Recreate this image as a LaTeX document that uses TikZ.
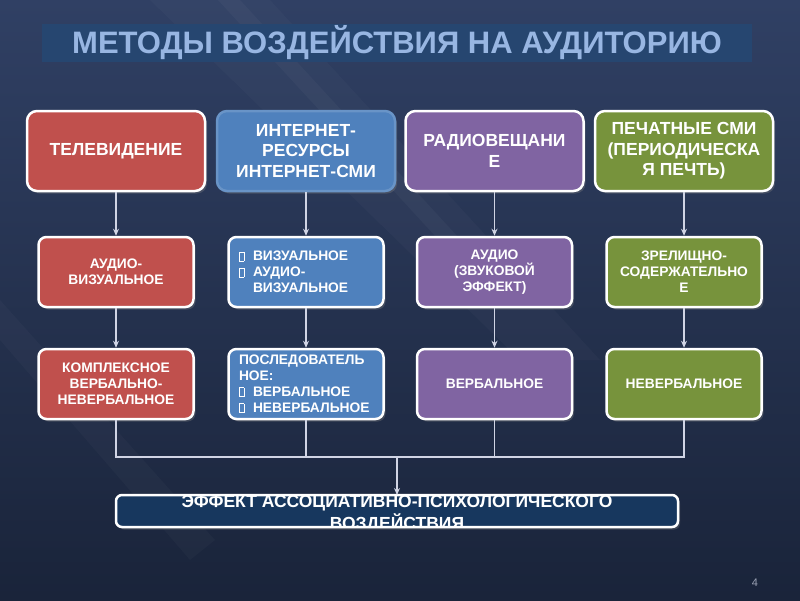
\documentclass[tikz,border=0pt]{standalone}
\usepackage{fontspec}
\setmainfont{Liberation Sans}
\usetikzlibrary{arrows.meta, shadows}
\definecolor{bgnavy}{RGB}{30,42,68}
\definecolor{bgnavylight}{RGB}{48,64,100}
\definecolor{titlefill}{RGB}{38,70,112}
\definecolor{titletext}{RGB}{152,182,226}
\definecolor{tvred}{RGB}{192,80,77}
\definecolor{netblue}{RGB}{79,129,189}
\definecolor{radiopurple}{RGB}{128,100,162}
\definecolor{printgreen}{RGB}{119,147,60}
\definecolor{effectnavy}{RGB}{23,55,94}
\definecolor{linkgray}{RGB}{208,212,228}
\newcommand{\boxbullet}{{\setlength{\fboxsep}{0pt}\setlength{\fboxrule}{0.7pt}\fbox{\rule{0pt}{8.5pt}\hspace{4pt}}}}
\newcommand{\bitem}{\makebox[14pt][l]{\boxbullet}}
\newcommand{\bindent}{\hspace*{14pt}}

\begin{document}
\begin{tikzpicture}[
  x=1pt, y=-1pt,
  titleband/.style={rectangle, fill=titlefill, minimum width=710pt, minimum height=38pt, inner sep=0pt, text=titletext, font=\fontsize{31}{32}\selectfont\bfseries},
  topbox/.style={rectangle, rounded corners=10pt, draw=white, line width=2.5pt, minimum width=178pt, minimum height=80pt, inner sep=0pt, align=center, text=white, font=\fontsize{17.5}{20.5}\selectfont\bfseries, drop shadow={opacity=0.35, shadow xshift=2pt, shadow yshift=-2.5pt}},
  subbox/.style={rectangle, rounded corners=8pt, draw=white, line width=2.5pt, minimum width=155pt, minimum height=70pt, inner sep=0pt, align=center, text=white, font=\fontsize{13.8}{16}\selectfont\bfseries, drop shadow={opacity=0.35, shadow xshift=2pt, shadow yshift=-2.5pt}},
  listbox/.style={subbox, text width=134pt, align=left},
  effbox/.style={rectangle, rounded corners=6pt, fill=effectnavy, minimum width=562pt, minimum height=32pt, inner sep=0pt, outer sep=0pt, drop shadow={opacity=0.35, shadow xshift=2pt, shadow yshift=-2.5pt}},
  efftext/.style={align=center, text=white, inner sep=0pt, font=\fontsize{17.5}{22}\selectfont\bfseries},
  pagenum/.style={text=linkgray!70!bgnavy, font=\fontsize{11}{12}\selectfont},
  link/.style={draw=linkgray, line width=1.4pt},
  arrow/.style={link, -{Stealth[length=7pt, width=6pt]}}
]
  % background
  \shade[top color=bgnavylight, bottom color=bgnavy!85!black] (0,0) rectangle (800,600);
  \fill[white, opacity=0.025] (150,0) -- (270,0) -- (600,360) -- (520,360) -- cycle;
  \fill[white, opacity=0.03] (218,0) -- (240,0) -- (470,250) -- (448,250) -- cycle;
  \fill[white, opacity=0.025] (0,300) -- (0,340) -- (190,560) -- (215,540) -- cycle;

  \node[titleband] (title) at (397,43) {МЕТОДЫ ВОЗДЕЙСТВИЯ НА АУДИТОРИЮ};

  % media
  \node[topbox, fill=tvred] (tv) at (116,151) {ТЕЛЕВИДЕНИЕ};
  \node[topbox, fill=netblue, draw=netblue!85!white] (net) at (306,151) {ИНТЕРНЕТ-\\РЕСУРСЫ\\ИНТЕРНЕТ-СМИ};
  \node[topbox, fill=radiopurple] (radio) at (494.5,151) {РАДИОВЕЩАНИ\\Е};
  \node[topbox, fill=printgreen] (print) at (684,151) {ПЕЧАТНЫЕ СМИ\\(ПЕРИОДИЧЕСКА\\Я ПЕЧТЬ)};

  % perception
  \node[subbox, fill=tvred] (tvmode) at (116,272) {АУДИО-\\ВИЗУАЛЬНОЕ};
  \node[listbox, fill=netblue] (netmode) at (306,272) {\bitem ВИЗУАЛЬНОЕ\\\bitem АУДИО-\\\bindent ВИЗУАЛЬНОЕ};
  \node[subbox, fill=radiopurple] (radiomode) at (494.5,272) {АУДИО\\(ЗВУКОВОЙ\\ЭФФЕКТ)};
  \node[subbox, fill=printgreen] (printmode) at (684,272) {ЗРЕЛИЩНО-\\СОДЕРЖАТЕЛЬНО\\Е};

  % impact
  \node[subbox, fill=tvred] (tvkind) at (116,384) {КОМПЛЕКСНОЕ\\ВЕРБАЛЬНО-\\НЕВЕРБАЛЬНОЕ};
  \node[listbox, fill=netblue] (netkind) at (306,384) {ПОСЛЕДОВАТЕЛЬ\\НОЕ:\\\bitem ВЕРБАЛЬНОЕ\\\bitem НЕВЕРБАЛЬНОЕ};
  \node[subbox, fill=radiopurple] (radiokind) at (494.5,384) {ВЕРБАЛЬНОЕ};
  \node[subbox, fill=printgreen] (printkind) at (684,384) {НЕВЕРБАЛЬНОЕ};

  \draw[arrow] (tv) -- (tvmode);
  \draw[arrow] (net) -- (netmode);
  \draw[arrow] (radio) -- (radiomode);
  \draw[arrow] (print) -- (printmode);
  \draw[arrow] (tvmode) -- (tvkind);
  \draw[arrow] (netmode) -- (netkind);
  \draw[arrow] (radiomode) -- (radiokind);
  \draw[arrow] (printmode) -- (printkind);

  % result
  \node[effbox] (effect) at (397,511) {};
  \begin{scope}
    \clip[rounded corners=6pt] (effect.south west) rectangle (effect.north east);
    \node[efftext] (efftxt) at (397,514) {ЭФФЕКТ АССОЦИАТИВНО-ПСИХОЛОГИЧЕСКОГО\\ВОЗДЕЙСТВИЯ};
  \end{scope}
  \draw[white, line width=2.5pt, rounded corners=6pt] (effect.south west) rectangle (effect.north east);

  \coordinate (merge) at (397,457);
  \draw[link] (tvkind.south) |- (merge) -| (printkind.south);
  \draw[link] (netkind.south) -- (netkind.south |- merge);
  \draw[link] (radiokind.south) -- (radiokind.south |- merge);
  \draw[arrow] (merge) -- (effect.north);

  \node[pagenum] (page) at (755,583) {4};
\end{tikzpicture}
\end{document}
